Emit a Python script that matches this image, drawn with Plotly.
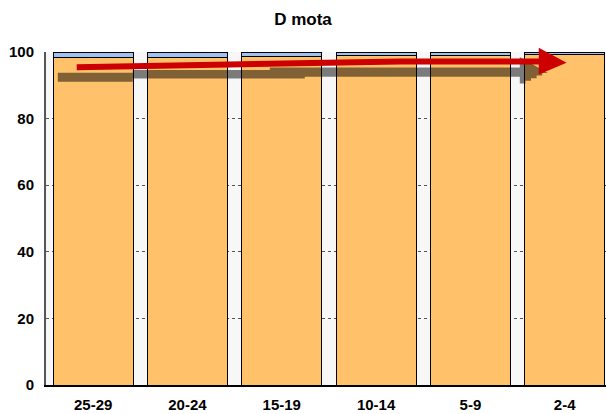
import plotly.graph_objects as go

# Age groups and share of each component (percent, stacked to 100)
categories = ["25-29", "20-24", "15-19", "10-14", "5-9", "2-4"]
main_share = [98.3, 98.5, 98.6, 98.9, 99.1, 99.3]
other_share = [round(100 - v, 1) for v in main_share]
y_ticks = [0, 20, 40, 60, 80, 100]

ORANGE = "#FFC26B"
BLUE = "#9FC1F4"
RED = "#CC0000"
SHADOW = "rgba(0,0,0,0.5)"
FONT = "Liberation Sans, Arial, sans-serif"

fig = go.Figure()
fig.add_bar(x=categories, y=main_share, marker=dict(color=ORANGE, line=dict(color="black", width=1)))
fig.add_bar(x=categories, y=other_share, marker=dict(color=BLUE, line=dict(color="black", width=1)))


def path(points, close=True):
    """SVG path in (category index, percent) units; y mapped to paper units."""
    s = "M " + " L ".join(f"{x:.4f},{y / 100:.5f}" for x, y in points)
    return s + (" Z" if close else "")


# Trend arrow, drawn as a shadow polygon under a red stroke and head
shadow = [(-0.375, 93.78), (0.420, 93.78), (0.420, 94.59), (1.873, 94.59),
          (1.873, 95.35), (4.524, 95.35), (4.524, 98.50), (4.821, 93.69)]
x, y = 4.821, 93.69
steps = 5
for i in range(steps):
    x -= 0.297 / steps
    shadow.append((x, y))
    y -= 3.90 / steps
    shadow.append((x, y))
shadow += [(4.524, 92.58), (2.244, 92.58), (2.244, 92.04), (0.420, 92.04),
           (0.420, 91.08), (-0.375, 91.08)]

shaft = [(-0.174, 95.41), (3.25, 97.15), (4.735, 97.12)]
head = [(4.725, 101.29), (4.725, 93.27), (5.02, 96.75)]

shapes = [
    dict(type="path", xref="x", yref="paper", path=path(shadow),
         fillcolor=SHADOW, line=dict(width=0), layer="above"),
    dict(type="path", xref="x", yref="paper", path=path(shaft, close=False),
         line=dict(color=RED, width=6), layer="above"),
    dict(type="path", xref="x", yref="paper", path=path(head),
         fillcolor=RED, line=dict(width=0), layer="above"),
]

fig.update_layout(
    width=606, height=414,
    margin=dict(l=46, r=0, t=52, b=29),
    barmode="stack", bargap=0.152,
    showlegend=False,
    paper_bgcolor="white", plot_bgcolor="#F7F7F7",
    font=dict(family=FONT, color="black"),
    title=dict(text="D mota", x=0.5, xanchor="center", y=0.955, yanchor="middle",
               font=dict(size=17, weight="bold", family=FONT)),
    shapes=shapes,
)
fig.update_xaxes(
    type="category", range=[-0.5, 5.438],
    showline=True, linecolor="black", linewidth=2,
    showgrid=False, ticks="", ticklabelstandoff=5,
    tickfont=dict(size=15, weight="bold", family=FONT),
)
fig.update_yaxes(
    range=[0, 100], tickvals=y_ticks,
    showline=True, linecolor="#555555", linewidth=2,
    showgrid=True, gridcolor="#555555", gridwidth=1, griddash="3px,3px",
    zeroline=False, ticks="", ticklabelstandoff=7,
    tickfont=dict(size=15, weight="bold", family=FONT),
)

fig.write_html("out.html")
